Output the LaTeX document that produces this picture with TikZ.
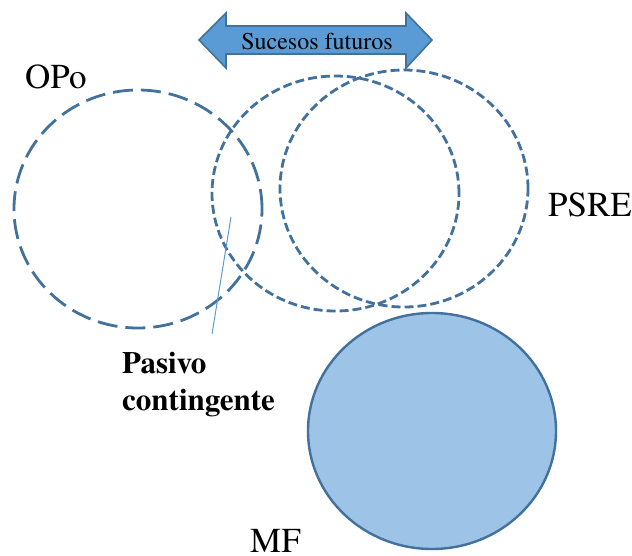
\documentclass[tikz,border=0pt]{standalone}
\usepackage{fontspec}
\setmainfont{texgyretermes}[Extension=.otf, UprightFont=*-regular, BoldFont=*-bold, ItalicFont=*-italic, BoldItalicFont=*-bolditalic]
\usetikzlibrary{shapes.geometric}
\definecolor{edgeblue}{HTML}{41719C}
\definecolor{arrowfill}{HTML}{5B9BD5}
\definecolor{mffill}{HTML}{9DC3E6}
\definecolor{thinblue}{HTML}{5B9BD5}
\begin{document}
\begin{tikzpicture}[x=1pt,y=-1pt,
  circlong/.style={ellipse, draw=edgeblue, line width=2.8pt, dash pattern=on 20pt off 8pt, inner sep=0pt},
  circshort/.style={ellipse, draw=edgeblue, line width=2.8pt, dash pattern=on 9pt off 4pt, inner sep=0pt},
  circfill/.style={ellipse, draw=edgeblue, fill=mffill, line width=2.4pt, inner sep=0pt},
  bigtxt/.style={inner sep=0pt, font=\fontsize{35}{40}\selectfont},
  pointer/.style={draw=thinblue, line width=1pt}
]
\useasboundingbox (0,0) rectangle (632,555);
% double arrow
\path[fill=arrowfill, draw=edgeblue, line width=1.6pt, line join=miter]
  (199,40) -- (226,13) -- (226,26) -- (406,26) -- (406,13) -- (432,40)
  -- (406,68) -- (406,54) -- (226,54) -- (226,68) -- cycle;
\node[inner sep=0pt, anchor=base, font=\fontsize{24}{28}\selectfont] (sf) at (317,49) {Sucesos futuros};
% circles
\node[circlong, minimum width=248pt, minimum height=238pt] (opoc) at (138,209) {};
\node[circshort, minimum width=247pt, minimum height=235pt] (c2) at (335.5,193.5) {};
\node[circshort, minimum width=248pt, minimum height=237pt] (psrec) at (404,188.5) {};
\node[circfill, minimum width=248pt, minimum height=236pt] (mfc) at (432,431) {};
% labels
\node[bigtxt, anchor=base west] (opo) at (25,88) {OPo};
\node[bigtxt, anchor=base west] (psre) at (548,216) {PSRE};
\node[bigtxt, anchor=base west] (mf) at (250,552) {MF};
\node[inner sep=0pt, anchor=north west, align=left, font=\bfseries\fontsize{31}{37}\selectfont] (pasivo) at (122,352) {Pasivo\\contingente};
% pointer
\coordinate (ptop) at (231,217);
\coordinate (pbot) at (212,334);
\draw[pointer] (ptop) -- (pbot);
\end{tikzpicture}
\end{document}
